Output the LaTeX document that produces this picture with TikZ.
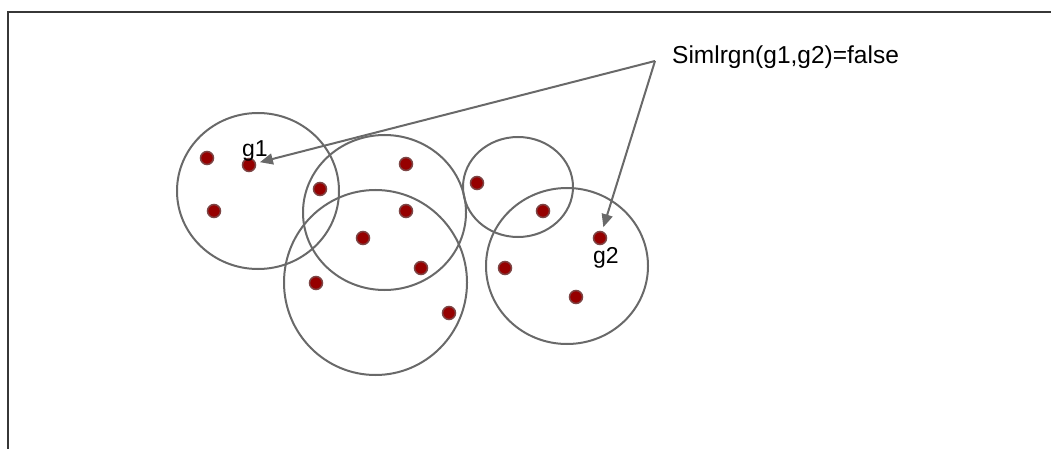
\documentclass[tikz,border=0pt]{standalone}
\usepackage{fontspec}
\setmainfont{Liberation Sans}
\usetikzlibrary{arrows.meta}
\definecolor{FrameGray}{RGB}{55,55,55}
\definecolor{RingGray}{RGB}{105,105,105}
\definecolor{PointRed}{RGB}{150,0,0}
\definecolor{PointRim}{RGB}{125,70,70}

\begin{document}
\begin{tikzpicture}[x=1pt,y=-1pt, every node/.style={inner sep=0pt},
  point/.style={circle, fill=PointRed, draw=PointRim, line width=1.5pt, minimum size=13pt},
  ring/.style={draw=RingGray, line width=2pt},
  pointer/.style={-{Triangle[length=13pt,width=11pt]}, draw=RingGray, line width=2pt, shorten >=4pt},
  gname/.style={anchor=base west, font=\fontsize{23}{27}\selectfont}]
  \useasboundingbox (0,0) rectangle (1051,449);
  \draw[FrameGray, line width=1.4pt] (8,449) -- (8,12) -- (1051,12);

  \draw[ring] (258,191) ellipse [x radius=81, y radius=78];
  \draw[ring] (384.5,212.5) ellipse [x radius=81.5, y radius=77.5];
  \draw[ring] (375.5,282.5) ellipse [x radius=91.5, y radius=92.5];
  \draw[ring] (518,187) ellipse [x radius=55, y radius=50];
  \draw[ring] (567,266) ellipse [x radius=81, y radius=78];

  \node[point] (p1) at (207,158) {};
  \node[point] (p2) at (249,165) {};
  \node[point] (p3) at (214,211) {};
  \node[point] (p4) at (320,189) {};
  \node[point] (p5) at (406,164) {};
  \node[point] (p6) at (406,211) {};
  \node[point] (p7) at (363,238) {};
  \node[point] (p8) at (421,268) {};
  \node[point] (p9) at (316,283) {};
  \node[point] (p10) at (449,313) {};
  \node[point] (p11) at (477,183) {};
  \node[point] (p12) at (543,211) {};
  \node[point] (p13) at (600,238) {};
  \node[point] (p14) at (505,268) {};
  \node[point] (p15) at (576,297) {};

  \node[gname] (g1) at (242,157) {g1};
  \node[gname] (g2) at (593,263) {g2};

  \node[anchor=base west, font=\fontsize{24.5}{29}\selectfont] (simlabel) at (672,64) {Simlrgn(g1,g2)=false};
  \coordinate (apex) at (655,61);
  \draw[pointer] (apex) -- (p2);
  \draw[pointer] (apex) -- (p13);
\end{tikzpicture}
\end{document}
